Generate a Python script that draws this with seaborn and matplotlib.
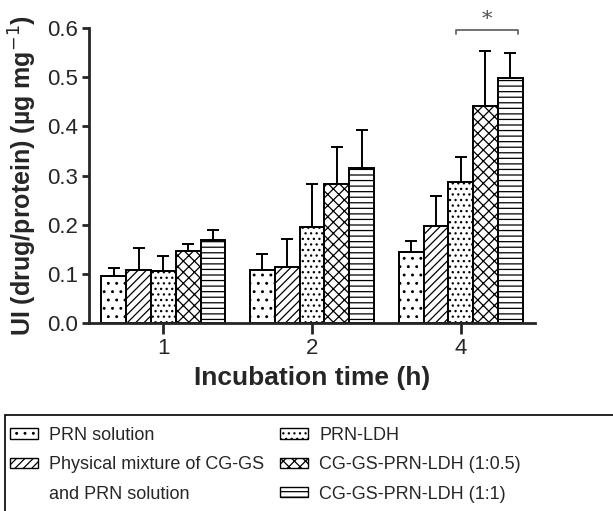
import numpy as np
import pandas as pd
import seaborn as sns
import matplotlib
matplotlib.use("Agg")
import matplotlib.pyplot as plt
from matplotlib.patches import Patch, Rectangle

# Incubation times (h) and formulations
times = ["1", "2", "4"]
formulations = [
    "PRN solution",
    "Physical mixture of CG-GS and PRN solution",
    "PRN-LDH",
    "CG-GS-PRN-LDH (1:0.5)",
    "CG-GS-PRN-LDH (1:1)",
]

# Uptake index UI (µg drug / mg protein), mean and SD per formulation
ui_prn_solution = [0.095, 0.108, 0.145]
ui_physical_mix = [0.108, 0.113, 0.197]
ui_prn_ldh = [0.105, 0.195, 0.287]
ui_cg_gs_05 = [0.147, 0.283, 0.442]
ui_cg_gs_1 = [0.168, 0.315, 0.498]

sd_prn_solution = [0.017, 0.033, 0.021]
sd_physical_mix = [0.045, 0.057, 0.062]
sd_prn_ldh = [0.032, 0.088, 0.051]
sd_cg_gs_05 = [0.013, 0.075, 0.112]
sd_cg_gs_1 = [0.021, 0.078, 0.051]

means = [ui_prn_solution, ui_physical_mix, ui_prn_ldh, ui_cg_gs_05, ui_cg_gs_1]
sds = [sd_prn_solution, sd_physical_mix, sd_prn_ldh, sd_cg_gs_05, sd_cg_gs_1]
hatches = ["..", "////", "...", "xxx", "---"]

df = pd.DataFrame(
    [(t, f, m[i]) for f, m in zip(formulations, means) for i, t in enumerate(times)],
    columns=["time", "formulation", "ui"],
)

sns.set_style("ticks")
plt.rcParams["font.family"] = ["Liberation Sans", "DejaVu Sans"]
plt.rcParams["hatch.color"] = "black"
plt.rcParams["hatch.linewidth"] = 0.9

fig = plt.figure(figsize=(6.13, 5.11), dpi=100)
ax = fig.add_axes([0.1452, 0.3679, 0.7276, 0.5771])

sns.barplot(
    data=df, x="time", y="ui", hue="formulation",
    order=times, hue_order=formulations,
    palette=["white"] * 5, edgecolor="black", linewidth=1.4,
    width=5 / 6, errorbar=None, legend=False, ax=ax,
)

# hatch each formulation and add upper SD bars
for cont, hatch, sd, m in zip(ax.containers, hatches, sds, means):
    xs = []
    for bar in cont:
        bar.set_hatch(hatch)
        xs.append(bar.get_x() + bar.get_width() / 2)
    ax.errorbar(xs, m, yerr=[np.zeros(len(sd)), sd], fmt="none",
                ecolor="black", elinewidth=1.4, capsize=4, capthick=1.4, zorder=1)

ax.set_xlim(-0.5, 2.5)
ax.set_ylim(0, 0.6)
ax.set_yticks(np.arange(0, 0.61, 0.1))
ax.set_yticklabels([f"{v:.1f}" for v in np.arange(0, 0.61, 0.1)])
sns.despine(ax=ax)
for s in ["left", "bottom"]:
    ax.spines[s].set_linewidth(2)
ax.tick_params(axis="y", length=5, width=2, labelsize=16, pad=3)
ax.tick_params(axis="x", length=8, width=2, labelsize=16, pad=3)
ax.set_xlabel("Incubation time (h)", fontsize=19, fontweight="bold", labelpad=5)
ax.set_ylabel("UI (drug/protein) (µg mg$^{-1}$)", fontsize=18, fontweight="bold", labelpad=6)

# significance bracket over the 4 h group
b_left = ax.containers[2][2]
b_right = ax.containers[4][2]
xl = b_left.get_x() + b_left.get_width() * 0.3
xr = b_right.get_x() + b_right.get_width() * 0.8
ax.plot([xl, xl, xr, xr], [0.587, 0.597, 0.597, 0.587], color="0.35", lw=1.2, clip_on=False)
ax.text((xl + xr) / 2, 0.599, "*", ha="center", va="bottom", fontsize=15,
        color="0.3", family="DejaVu Serif")

# legend laid out in two columns, inside an open box running off the page edge
handles = [
    Patch(facecolor="white", edgecolor="black", hatch=hatches[0], lw=1),
    Patch(facecolor="white", edgecolor="black", hatch=hatches[1], lw=1),
    Patch(facecolor="none", edgecolor="none"),
    Patch(facecolor="white", edgecolor="black", hatch=hatches[2], lw=1),
    Patch(facecolor="white", edgecolor="black", hatch=hatches[3], lw=1),
    Patch(facecolor="white", edgecolor="black", hatch=hatches[4], lw=1),
]
labels = [
    "PRN solution",
    "Physical mixture of CG-GS",
    "and PRN solution",
    "PRN-LDH",
    "CG-GS-PRN-LDH (1:0.5)",
    "CG-GS-PRN-LDH (1:1)",
]
W, H = 613, 511
fig.patches.append(Rectangle((5 / W, -0.05), 1.2, 1 - 415 / H + 0.05,
                             transform=fig.transFigure, fill=False,
                             edgecolor="black", lw=1.2))
leg = fig.legend(
    handles, labels, ncol=2, loc="upper left",
    bbox_to_anchor=(10 / W, 1 - 427 / H), bbox_transform=fig.transFigure,
    fontsize=13, frameon=False,
    handlelength=1.55, handleheight=0.5, handletextpad=0.6,
    labelspacing=0.68, columnspacing=0.9, borderpad=0, borderaxespad=0,
)

fig.savefig("out.png", dpi=100)
